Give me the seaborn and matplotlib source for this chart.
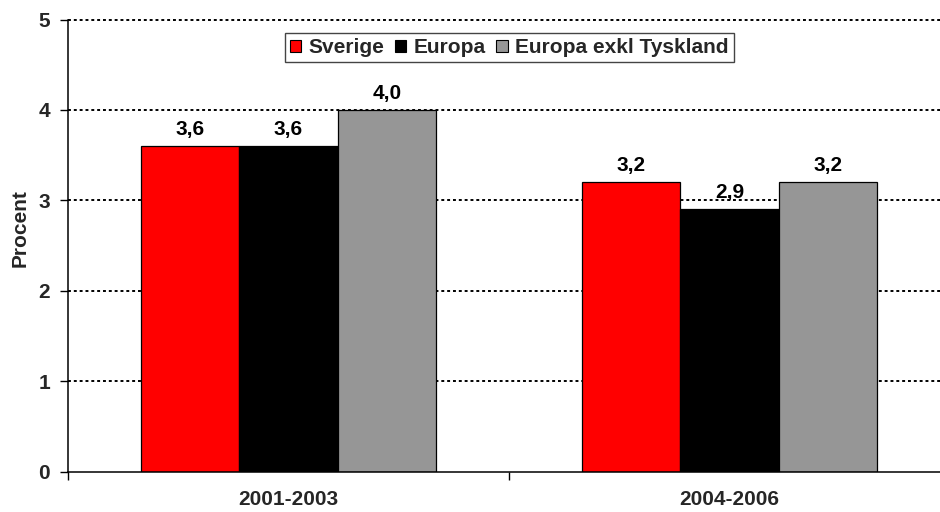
import matplotlib
matplotlib.use("Agg")
import matplotlib.pyplot as plt
import matplotlib.patches as mpatches
import numpy as np
import pandas as pd
import seaborn as sns

# Data
periods = ["2001-2003", "2004-2006"]
series = ["Sverige", "Europa", "Europa exkl Tyskland"]
sverige = [3.6, 3.2]
europa = [3.6, 2.9]
europa_exkl_tyskland = [4.0, 3.2]
colors = ["#FF0000", "#000000", "#969696"]

df = pd.DataFrame({
    "Period": periods * 3,
    "Serie": [s for s in series for _ in periods],
    "Procent": sverige + europa + europa_exkl_tyskland,
})

sns.set_style("white")
plt.rcParams["font.family"] = ["Liberation Sans", "DejaVu Sans"]
plt.rcParams["font.weight"] = "bold"

fig = plt.figure(figsize=(9.4, 5.12), dpi=100)
ax = fig.add_axes([68 / 940, 40.5 / 512, 872 / 940, 452 / 512])

sns.barplot(data=df, x="Period", y="Procent", hue="Serie", order=periods,
            hue_order=series, palette=colors, width=0.67, ax=ax,
            edgecolor="black", linewidth=0.9, saturation=1, legend=False,
            errorbar=None, zorder=3)

# Value labels with decimal comma
for cont in ax.containers:
    labels = [f"{b.get_height():.1f}".replace(".", ",") for b in cont]
    ax.bar_label(cont, labels=labels, padding=5, fontsize=15,
                 fontweight="bold", color="black")

ax.set_yticks([0, 1, 2, 3, 4, 5])
ax.set_yticklabels(["0", "1", "2", "3", "4", "5"], fontsize=15, fontweight="bold")
ax.set_xticks([0, 1])
ax.set_xticklabels(periods, fontsize=15, fontweight="bold")
ax.set_xticks([-0.5, 0.5, 1.5], minor=True)
ax.set_ylim(0, 5)
ax.set_xlim(-0.5, -0.5 + 872 / 441)
ax.tick_params(axis="x", which="major", length=0, pad=13)
ax.tick_params(axis="x", which="minor", length=6, width=1, color="black",
               direction="out", bottom=True)
ax.tick_params(axis="y", length=6, width=1, color="black", direction="out",
               left=True, pad=7)

# Dotted horizontal gridlines above zero
for v in [1, 2, 3, 4, 5]:
    ax.axhline(v, color="black", linewidth=1.4, linestyle=(0, (1.5, 1.5)),
               zorder=1, clip_on=False)

for side in ["top", "right"]:
    ax.spines[side].set_visible(False)
for side in ["left", "bottom"]:
    ax.spines[side].set_color("black")
    ax.spines[side].set_linewidth(1.1)
    ax.spines[side].set_zorder(4)

ax.set_xlabel("")
ax.set_ylabel("Procent", fontsize=15, fontweight="bold")
ax.yaxis.set_label_coords(-0.044, 0.538)

handles = [mpatches.Patch(facecolor=c, edgecolor="black", linewidth=0.8)
           for c in colors]
leg = ax.legend(handles, series, loc="upper center",
                bbox_to_anchor=(441 / 872, (471.5 - 33) / 452), ncol=3,
                fontsize=15, frameon=True, fancybox=False, framealpha=1,
                edgecolor="#444444", borderaxespad=0, borderpad=0.25,
                handlelength=0.55, handleheight=0.55, handletextpad=0.35,
                columnspacing=0.5)
leg.get_frame().set_linewidth(1)
leg.set_zorder(5)
for t in leg.get_texts():
    t.set_fontweight("bold")

fig.savefig("out.png", dpi=100)
